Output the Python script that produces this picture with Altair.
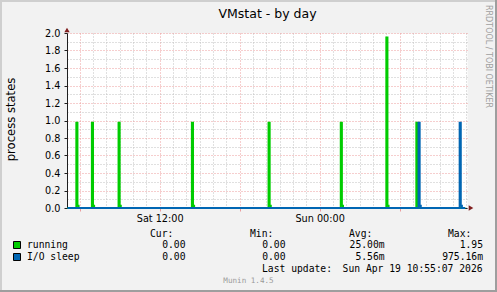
import altair as alt
import pandas as pd

# ---------------- data ----------------
sample_first = "Sat 05:05"
sample_last = "Sun 10:55"

running_spike_times = ["Sat 05:45", "Sat 06:55", "Sat 08:55", "Sat 14:25",
                       "Sat 20:10", "Sun 01:35", "Sun 05:00", "Sun 07:15"]
running_spike_values = [0.975, 0.975, 0.975, 0.975, 0.975, 0.975, 1.95, 0.975]
running_tail_values = [0.025, 0.025, 0.025, 0.025, 0.025, 0.025, 0.025, 0.025]

io_spike_times = ["Sun 07:25", "Sun 10:30"]
io_spike_values = [0.975, 0.975]
io_tail_values = [0.025, 0.025]

x_domain = [5.05, 35.05]
x_major_hours = [6, 12, 18, 24, 30]
x_minor_hours = [7, 8, 9, 10, 11, 13, 14, 15, 16, 17, 19, 20, 21, 22, 23,
                 25, 26, 27, 28, 29, 31, 32, 33, 34, 35]
x_label_hours = [12, 24]
x_label_texts = ["Sat 12:00", "Sun 00:00"]
y_major = [0.0, 0.2, 0.4, 0.6, 0.8, 1.0, 1.2, 1.4, 1.6, 1.8, 2.0]
y_minor = [0.1, 0.3, 0.5, 0.7, 0.9, 1.1, 1.3, 1.5, 1.7, 1.9]

series_names = ["running", "I/O sleep"]
series_colors = ["#00cc00", "#0066b3"]
legend_headers = ["Cur:", "Min:", "Avg:", "Max:"]
cur_vals = ["0.00", "0.00"]
min_vals = ["0.00", "0.00"]
avg_vals = ["25.00m", "5.56m"]
max_vals = ["1.95", "975.16m"]
title_text = "VMstat - by day"
y_title = "process states"
last_update_label = "Last update:"
last_update_value = "Sun Apr 19 10:55:07 2026"
watermark = "Munin 1.4.5"
side_text = "RRDTOOL / TOBI OETIKER"

# ---------------- helpers ----------------
def hours(s):
    day, hm = s.split()
    h, m = hm.split(":")
    return (0 if day == "Sat" else 24) + int(h) + int(m) / 60.0

def series_frame(times, peaks, tails):
    k0 = round(hours(sample_first) * 12)
    k1 = round(hours(sample_last) * 12)
    vals = {k: 0.0 for k in range(k0, k1 + 1)}
    for t, p, f in zip(times, peaks, tails):
        k = round(hours(t) * 12)
        vals[k] = p
        if k + 1 in vals and vals[k + 1] == 0.0:
            vals[k + 1] = f
    ks = sorted(vals)
    return pd.DataFrame({"h": [k / 12.0 for k in ks], "v": [vals[k] for k in ks]})

OX, OY = 67, 33   # plot origin in page pixels
PLOT_W, PLOT_H = 400, 175
MONO = "DejaVu Sans Mono"
SANS = "DejaVu Sans"
FS = 9.7
NB = "\u00a0"

def one():
    return pd.DataFrame({"a": [0]})

def text(txt, x, y, align="left", font=MONO, size=FS, color="#000000", angle=0):
    return alt.Chart(pd.DataFrame({"t": [txt]})).mark_text(
        align=align, baseline="alphabetic", font=font, fontSize=size,
        color=color, angle=angle
    ).encode(x=alt.value(x - OX), y=alt.value(y - OY), text="t:N")

def rect(x1, y1, x2, y2, fill, stroke=None):
    kw = dict(color=fill, opacity=1)
    if stroke:
        kw.update(stroke=stroke, strokeWidth=1)
    return alt.Chart(one()).mark_rect(**kw).encode(
        x=alt.value(x1 - OX), x2=alt.value(x2 - OX),
        y=alt.value(y1 - OY), y2=alt.value(y2 - OY))

x_scale = alt.Scale(domain=x_domain, nice=False, zero=False)
y_scale = alt.Scale(domain=[0, 2], nice=False, zero=True)

MINOR = "#c0c0c0"
MAJOR = "#ec9c9c"
AXIS = "#1f1f1f"
DASH = [1, 2]

label_expr = " : ".join(
    f"datum.value == {h} ? '{t}'" for h, t in zip(x_label_hours, x_label_texts)
) + " : ''"

run_df = series_frame(running_spike_times, running_spike_values, running_tail_values)
io_df = series_frame(io_spike_times, io_spike_values, io_tail_values)

running_line = alt.Chart(run_df).mark_line(
    interpolate="step-after", strokeWidth=2, color=series_colors[0]
).encode(
    x=alt.X("h:Q", scale=x_scale, axis=alt.Axis(
        orient="top", values=x_minor_hours, grid=True, gridColor=MINOR,
        gridDash=DASH, domain=False, ticks=False, labels=False, title="")),
    y=alt.Y("v:Q", scale=y_scale, axis=alt.Axis(
        orient="right", values=y_minor, grid=True, gridColor=MINOR,
        gridDash=DASH, domain=False, ticks=False, labels=False, title="")),
)

io_line = alt.Chart(io_df).mark_line(
    interpolate="step-after", strokeWidth=2, color=series_colors[1]
).encode(
    x=alt.X("h:Q", scale=x_scale, axis=alt.Axis(
        orient="bottom", values=x_major_hours, grid=True, gridColor=MAJOR,
        gridDash=DASH, domain=True, domainColor=AXIS, ticks=True,
        tickColor=MAJOR, tickSize=3, labelExpr=label_expr, labelFont=SANS,
        labelFontSize=FS, labelColor="#000000", labelBaseline="alphabetic",
        labelPadding=10, labelFlush=False, labelOverlap=False, title="")),
    y=alt.Y("v:Q", scale=y_scale, axis=alt.Axis(
        orient="left", values=y_major, format=".1f", grid=True, gridColor=MAJOR,
        gridDash=DASH, domain=True, domainColor=AXIS, ticks=True,
        tickColor=AXIS, tickSize=3, labelFont=SANS, labelFontSize=FS,
        labelColor="#000000", labelPadding=4, labelFlush=False,
        labelOverlap=False, title="")),
)

arrow_up = alt.Chart(one()).mark_point(
    shape="triangle-up", filled=True, size=28, color="#801f1f", opacity=1
).encode(x=alt.value(0), y=alt.value(-3))
arrow_right = alt.Chart(one()).mark_point(
    shape="triangle-right", filled=True, size=28, color="#801f1f", opacity=1
).encode(x=alt.value(PLOT_W + 4), y=alt.value(PLOT_H))

layers = [running_line, io_line, arrow_up, arrow_right]

# frame (3-D shading)
layers += [
    rect(0, 0, 497, 2, "#cfcfcf"),
    rect(0, 0, 2, 292, "#cfcfcf"),
    rect(495, 0, 497, 292, "#9e9e9e"),
    rect(0, 290, 497, 292, "#9e9e9e"),
]

# titles
layers.append(text(title_text, 267.5, 18.3, align="center", font=SANS, size=12.5))
layers.append(text(y_title, 14.5, 119.5, align="center", font=SANS, size=11.6, angle=270))
layers.append(text(side_text, 485.5, 5, align="left", font=SANS, size=8,
                   color="#a0a0a0", angle=90))

# legend
header_x = [150, 250, 349, 448]
for hx, ht in zip(header_x, legend_headers):
    layers.append(text(ht, hx, 236.8))

col_ends = [185.5, 285.5, 384.6, 483.0]
row_base = [248.3, 260.3]
box_top = [241.5, 253.5]

def fmt(s):
    return s if s[-1].isalpha() else s + NB

for i, name in enumerate(series_names):
    layers.append(rect(13.5, box_top[i], 20.5, box_top[i] + 7, series_colors[i], stroke="#000000"))
    layers.append(text(name, 27, row_base[i]))
    for ce, col in zip(col_ends, [cur_vals, min_vals, avg_vals, max_vals]):
        layers.append(text(fmt(col[i]), ce, row_base[i], align="right"))

layers.append(text(last_update_label, 262, 272.3, align="left"))
layers.append(text(last_update_value, 482.6, 272.3, align="right"))
layers.append(text(watermark, 248.5, 283.3, align="center", size=7.6, color="#9a9a9a"))

chart = alt.layer(*layers).resolve_axis(x="independent", y="independent").properties(
    width=PLOT_W, height=PLOT_H,
    padding={"left": OX, "top": OY, "right": 497 - OX - PLOT_W, "bottom": 292 - OY - PLOT_H},
    autosize=alt.AutoSizeParams(type="none"),
    background="#f2f2f2",
).configure_view(fill="#ffffff", stroke="transparent")

chart.save("out.html", embed_options={"renderer": "svg", "actions": False})
